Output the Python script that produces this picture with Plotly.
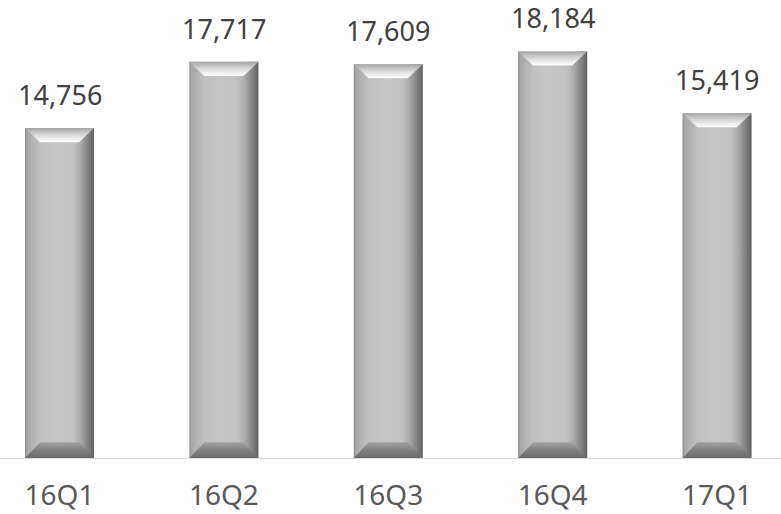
import plotly.graph_objects as go

# Quarterly values
quarters = ["16Q1", "16Q2", "16Q3", "16Q4", "17Q1"]
values = [14756, 17717, 17609, 18184, 15419]

# Bar geometry (category units / value units)
HALF_W = 0.21
BEVEL_X = 0.091
BEVEL_TOP = 630
BEVEL_BOT = 700

Y_MAX = 20483
X_RANGE = [-0.362, 4.389]

body_scale = [
    [0.00, "#8a8a8a"], [0.03, "#a6a6a6"], [0.12, "#b4b4b4"], [0.22, "#c0c0c0"],
    [0.45, "#c6c6c6"], [0.70, "#c2c2c2"], [0.80, "#acacac"], [0.88, "#8e8e8e"],
    [0.95, "#757575"], [1.00, "#5e5e5e"],
]
top_scale = [[0.0, "#ffffff"], [0.2, "#f2f2f2"], [0.6, "#d0d0d0"], [1.0, "#a4a4a4"]]
bot_scale = [[0.0, "#6a6a6a"], [0.5, "#808080"], [1.0, "#a2a2a2"]]

fig = go.Figure()

for i, v in enumerate(values):
    x0, x1 = i - HALF_W, i + HALF_W
    xi0, xi1 = x0 + BEVEL_X, x1 - BEVEL_X
    # body with horizontal shading
    fig.add_trace(go.Scatter(
        x=[x0, x1, x1, x0, x0], y=[0, 0, v, v, 0],
        mode="lines", line=dict(width=0), fill="toself",
        fillgradient=dict(type="horizontal", colorscale=body_scale),
        hoverinfo="skip", showlegend=False))
    # top bevel
    fig.add_trace(go.Scatter(
        x=[x0, x1, xi1, xi0, x0], y=[v, v, v - BEVEL_TOP, v - BEVEL_TOP, v],
        mode="lines", line=dict(width=0), fill="toself",
        fillgradient=dict(type="vertical", colorscale=top_scale),
        hoverinfo="skip", showlegend=False))
    # bottom bevel
    fig.add_trace(go.Scatter(
        x=[x0, x1, xi1, xi0, x0], y=[0, 0, BEVEL_BOT, BEVEL_BOT, 0],
        mode="lines", line=dict(width=0), fill="toself",
        fillgradient=dict(type="vertical", colorscale=bot_scale),
        hoverinfo="skip", showlegend=False))

# value labels
for i, v in enumerate(values):
    fig.add_annotation(
        x=i, y=v, text=f"{v:,}", showarrow=False,
        xanchor="center", yanchor="bottom", yshift=13,
        font=dict(family="Noto Sans", size=27, color="#404040"))

fig.update_layout(
    width=781, height=514,
    margin=dict(l=0, r=0, t=0, b=56),
    plot_bgcolor="white", paper_bgcolor="white",
    xaxis=dict(
        range=X_RANGE, tickvals=list(range(len(quarters))), ticktext=quarters,
        showgrid=False, zeroline=False, showline=True, linecolor="#d9d9d9", linewidth=1,
        ticks="outside", ticklen=12, tickcolor="rgba(0,0,0,0)", automargin=False,
        tickfont=dict(family="Noto Sans", size=28, color="#595959"),
        fixedrange=True),
    yaxis=dict(range=[0, Y_MAX], visible=False, fixedrange=True),
)

fig.write_html("out.html")
